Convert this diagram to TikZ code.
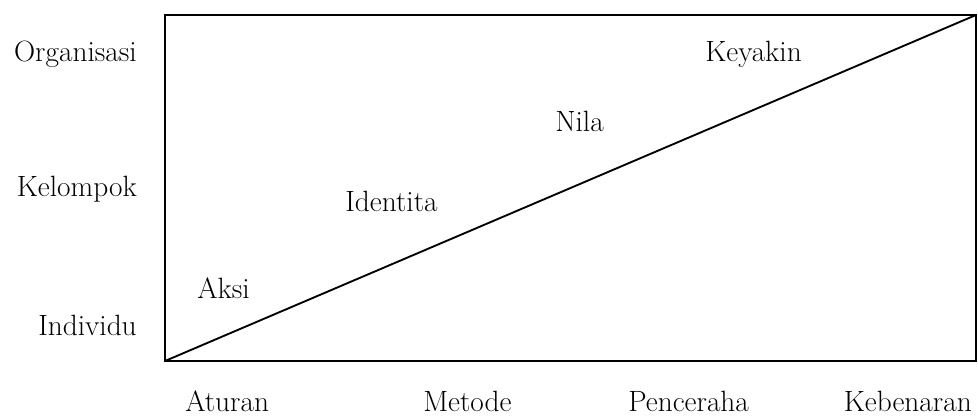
\documentclass[tikz,border=0pt]{standalone}
\usepackage{tikz}
\usetikzlibrary{positioning,calc}

\begin{document}
\begin{tikzpicture}[
  x=0.75pt, y=-0.75pt,
  txt/.style={inner sep=0pt, font=\fontsize{22}{26}\selectfont},
  ylbl/.style={txt, anchor=base east},
  xlbl/.style={txt, anchor=base west},
  zone/.style={txt, anchor=base west},
  frame/.style={draw, line width=1.4pt},
  diag/.style={draw, line width=1.4pt}
]
\useasboundingbox (0,0) rectangle (978,417);
\coordinate (bl) at (165,361);
\coordinate (tr) at (976,15);
\draw[frame] (bl) rectangle (tr);
\draw[diag] (bl) -- (tr);
% levels
\node[ylbl] (org) at (137,62) {Organisasi};
\node[ylbl] (kel) at (137,197) {Kelompok};
\node[ylbl] (ind) at (137,335) {Individu};
% steps
\node[xlbl] (atu) at (185,411) {Aturan};
\node[xlbl] (met) at (423,411) {Metode};
\node[xlbl] (pen) at (628,411) {Penceraha};
\node[txt, anchor=base east] (keb) at (972,411) {Kebenaran};
% inside
\node[zone] (aks) at (197,298) {Aksi};
\node[zone] (ide) at (345,211) {Identita};
\node[zone] (nil) at (555,132) {Nila};
\node[zone] (key) at (705,62) {Keyakin};
\end{tikzpicture}
\end{document}
